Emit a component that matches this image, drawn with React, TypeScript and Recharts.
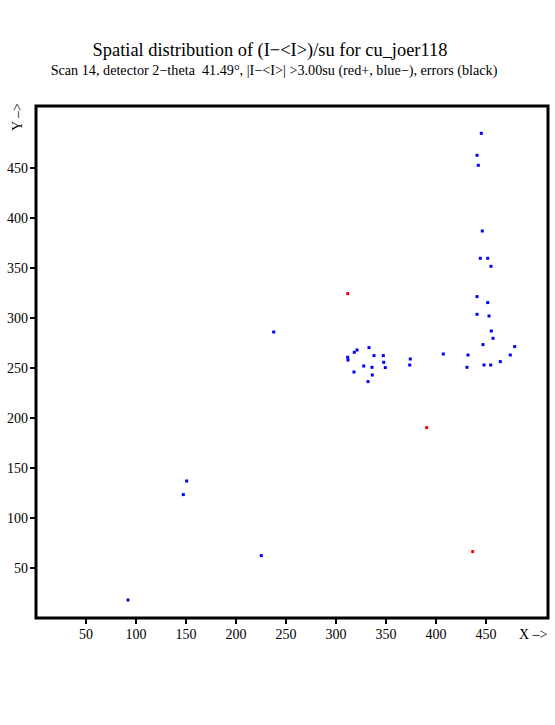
import React from 'react'
import { ReferenceArea, Scatter, ScatterChart, XAxis, YAxis } from 'recharts'

// spot positions (detector pixels)
const blueX = [
  92, 150.7, 147.3, 225.3, 237.7,
  333, 321, 318.3, 311.7, 312, 338, 347.3, 347.7, 374.3, 373.7, 407.3, 327.7, 336, 349.3, 318, 336.3, 332,
  445.3, 441, 442.3, 446.3, 444.3, 451.7, 455,
  441, 451.7, 441, 453, 455.3, 457, 447, 478.7, 432, 474.3, 464.3, 431, 448, 454.7,
]
const blueY = [
  18, 137, 123.4, 62.4, 286,
  270.4, 268, 265.7, 260.7, 258, 262.4, 262.4, 255.7, 259, 253, 264, 252, 250.7, 250.4, 246, 243, 236.4,
  484.7, 462.7, 452.7, 387, 359.7, 359.7, 351.7,
  321.4, 315.4, 303.7, 302, 287, 279.7, 273.4, 271.4, 263, 263, 256.4, 250.7, 253, 253,
]
const redX = [311.7, 390.7, 436.7]
const redY = [324.4, 190.4, 66.4]

const xTicks = [50, 100, 150, 200, 250, 300, 350, 400, 450]
const yTicks = [50, 100, 150, 200, 250, 300, 350, 400, 450]

const blueData = blueX.map((x, i) => ({ x, y: blueY[i] }))
const redData = redX.map((x, i) => ({ x, y: redY[i] }))

const FONT = '"Liberation Serif", "DejaVu Serif", serif'
const tickStyle = { fontSize: 14, fontFamily: FONT, fill: '#000' }

const dot = (color: string) => (props: any) => (
  <rect x={props.cx - 1.5} y={props.cy - 1.5} width={3} height={3} fill={color} />
)

export default function App() {
  return (
    <div style={{ position: 'absolute', left: 0, top: 0, width: 555, height: 725, background: '#fff' }}>
      <ScatterChart
        width={555}
        height={725}
        margin={{ top: 106, right: 7, bottom: 77, left: 0 }}
      >
        <XAxis
          type="number"
          dataKey="x"
          domain={[0, 512]}
          ticks={xTicks}
          axisLine={false}
          tickLine={{ stroke: '#000', strokeWidth: 2 }}
          tickSize={6}
          tickMargin={5}
          height={30}
          tick={tickStyle}
        />
        <YAxis
          type="number"
          dataKey="y"
          domain={[0, 512]}
          ticks={yTicks}
          axisLine={false}
          tickLine={{ stroke: '#000', strokeWidth: 2 }}
          tickSize={6}
          tickMargin={2}
          width={36}
          tick={tickStyle}
        />
        <ReferenceArea
          x1={0}
          x2={512}
          y1={0}
          y2={512}
          fill="none"
          fillOpacity={0}
          stroke="#000"
          strokeWidth={3}
          strokeOpacity={1}
        />
        <Scatter data={blueData} shape={dot('#0000ff')} isAnimationActive={false} />
        <Scatter data={redData} shape={dot('#ff0000')} isAnimationActive={false} />
      </ScatterChart>
      <svg
        width={555}
        height={725}
        style={{ position: 'absolute', left: 0, top: 0, pointerEvents: 'none' }}
      >
        <text x={270} y={56} textAnchor="middle" fontSize={18.4} fontFamily={FONT} fill="#000">
          Spatial distribution of (I−&lt;I&gt;)/su for cu_joer118
        </text>
        <text
          x={274}
          y={75}
          textAnchor="middle"
          fontSize={14.2}
          fontFamily={FONT}
          fill="#000"
          style={{ whiteSpace: 'pre' }}
        >
          {'Scan 14, detector 2−theta  41.49°, |I−<I>| >3.00su (red+, blue−), errors (black)'}
        </text>
        <text x={519} y={639} fontSize={14} fontFamily={FONT} fill="#000">
          X –&gt;
        </text>
        <text
          x={22}
          y={131}
          fontSize={14}
          fontFamily={FONT}
          fill="#000"
          transform="rotate(-90, 22, 131)"
        >
          Y –&gt;
        </text>
      </svg>
    </div>
  )
}
